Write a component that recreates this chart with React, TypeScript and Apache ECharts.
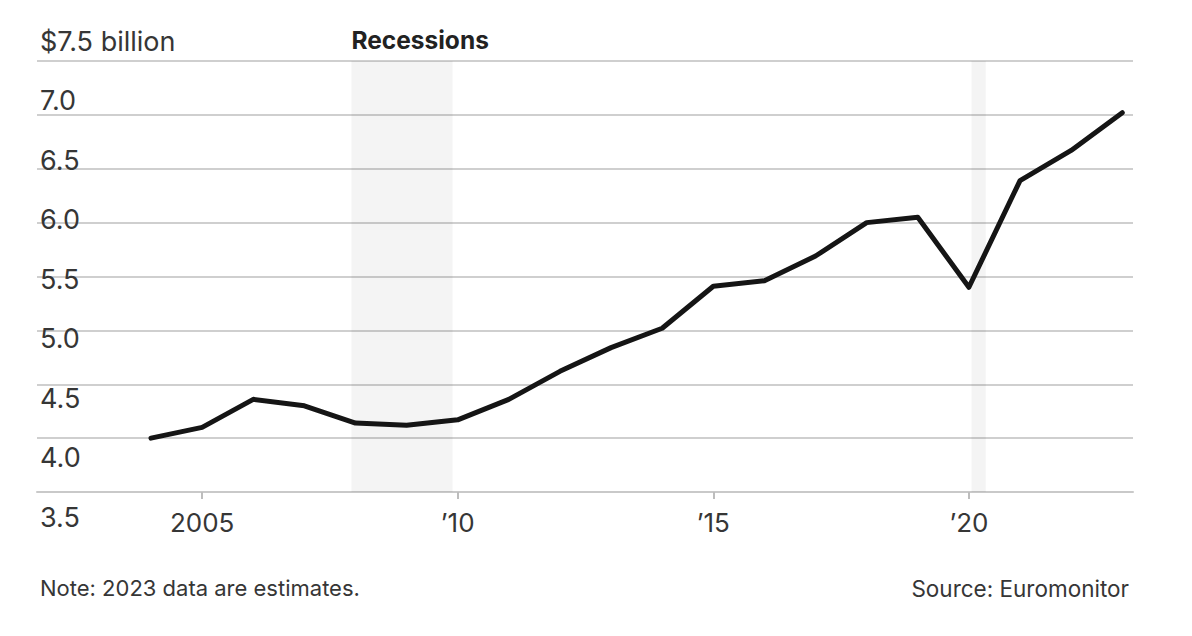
import React, { useEffect, useRef } from "react";
import * as echarts from "echarts";

const years = [2004, 2005, 2006, 2007, 2008, 2009, 2010, 2011, 2012, 2013, 2014, 2015, 2016, 2017, 2018, 2019, 2020, 2021, 2022, 2023];
const sales = [4.0, 4.1, 4.36, 4.3, 4.14, 4.12, 4.17, 4.36, 4.62, 4.84, 5.02, 5.41, 5.46, 5.69, 6.0, 6.05, 5.4, 6.39, 6.67, 7.02];
const xTickYears = [2005, 2010, 2015, 2020];
const yTicks = [3.5, 4.0, 4.5, 5.0, 5.5, 6.0, 6.5, 7.0, 7.5];
const recessions = [
  [2007.92, 2009.9],
  [2020.05, 2020.33],
];
const recessionLabel = "Recessions";
const noteText = "Note: 2023 data are estimates.";
const sourceText = "Source: Euromonitor";

const FONT = "Inter, 'Noto Sans', sans-serif";
const TEXT = "#363636";

export default function App() {
  const ref = useRef<HTMLDivElement>(null);
  useEffect(() => {
    if (!ref.current) return;
    const chart = echarts.init(ref.current, null, { renderer: "svg" });
    const option = {
      animation: false,
      backgroundColor: "#ffffff",
      grid: [
        { left: 37, right: 59, top: 61, bottom: 144 },
        { left: 40, width: 10, top: 41, bottom: 119 },
      ],
      xAxis: [
        {
          type: "value",
          gridIndex: 0,
          min: 2001.77,
          max: 2023.21,
          splitLine: { show: false },
          axisLine: { show: true, lineStyle: { color: "#c9c9c9", width: 2 } },
          axisTick: { show: true, customValues: xTickYears, length: 7, lineStyle: { color: "#bdbdbd", width: 2 } },
          axisLabel: {
            customValues: xTickYears,
            formatter: (v: number) => (v === 2005 ? "2005" : "\u2019" + String(v).slice(2)),
            fontSize: 26,
            color: TEXT,
            margin: 17,
            fontFamily: FONT,
          },
        },
        { type: "value", gridIndex: 1, min: 0, max: 1, show: false },
      ],
      yAxis: [
        {
          type: "value",
          gridIndex: 0,
          min: yTicks[0],
          max: yTicks[yTicks.length - 1],
          interval: 0.5,
          axisLabel: { show: false },
          axisLine: { show: false },
          axisTick: { show: false },
          splitLine: { show: true, lineStyle: { color: "#cfcfcf", width: 2 } },
        },
        {
          type: "value",
          gridIndex: 1,
          min: yTicks[0],
          max: yTicks[yTicks.length - 1],
          interval: 0.5,
          axisLine: { show: false },
          axisTick: { show: false },
          splitLine: { show: false },
          axisLabel: {
            align: "left",
            margin: 0,
            formatter: (v: number) => (v === 7.5 ? "$7.5 billion" : v.toFixed(1)),
            fontSize: 27,
            color: TEXT,
            fontFamily: FONT,
          },
        },
      ],
      series: [
        {
          type: "line",
          xAxisIndex: 0,
          yAxisIndex: 0,
          data: years.map((y, i) => [y, sales[i]]),
          symbol: "none",
          lineStyle: { color: "#151515", width: 5, join: "round", cap: "round" },
          z: 5,
          markArea: {
            silent: true,
            itemStyle: { color: "rgba(0,0,0,0.045)" },
            data: recessions.map((r, i) => [
              {
                xAxis: r[0],
                name: i === 0 ? recessionLabel : "",
                label: i === 0
                  ? {
                      show: true,
                      position: [0, -21],
                      align: "left",
                      verticalAlign: "middle",
                      fontSize: 24.5,
                      fontWeight: "bold",
                      color: "#222222",
                      fontFamily: FONT,
                    }
                  : { show: false },
              },
              { xAxis: r[1] },
            ]),
          },
        },
      ],
      graphic: [
        {
          type: "text",
          left: 40,
          top: 577,
          style: { text: noteText, fontSize: 22, fill: TEXT, fontFamily: FONT },
        },
        {
          type: "text",
          right: 63,
          top: 577,
          style: { text: sourceText, fontSize: 22.5, fill: TEXT, fontFamily: FONT },
        },
      ],
    };
    chart.setOption(option as any);
    return () => chart.dispose();
  }, []);
  return (
    <div
      ref={ref}
      style={{ position: "fixed", left: 0, top: 0, width: 1192, height: 636, background: "#fff" }}
    />
  );
}
